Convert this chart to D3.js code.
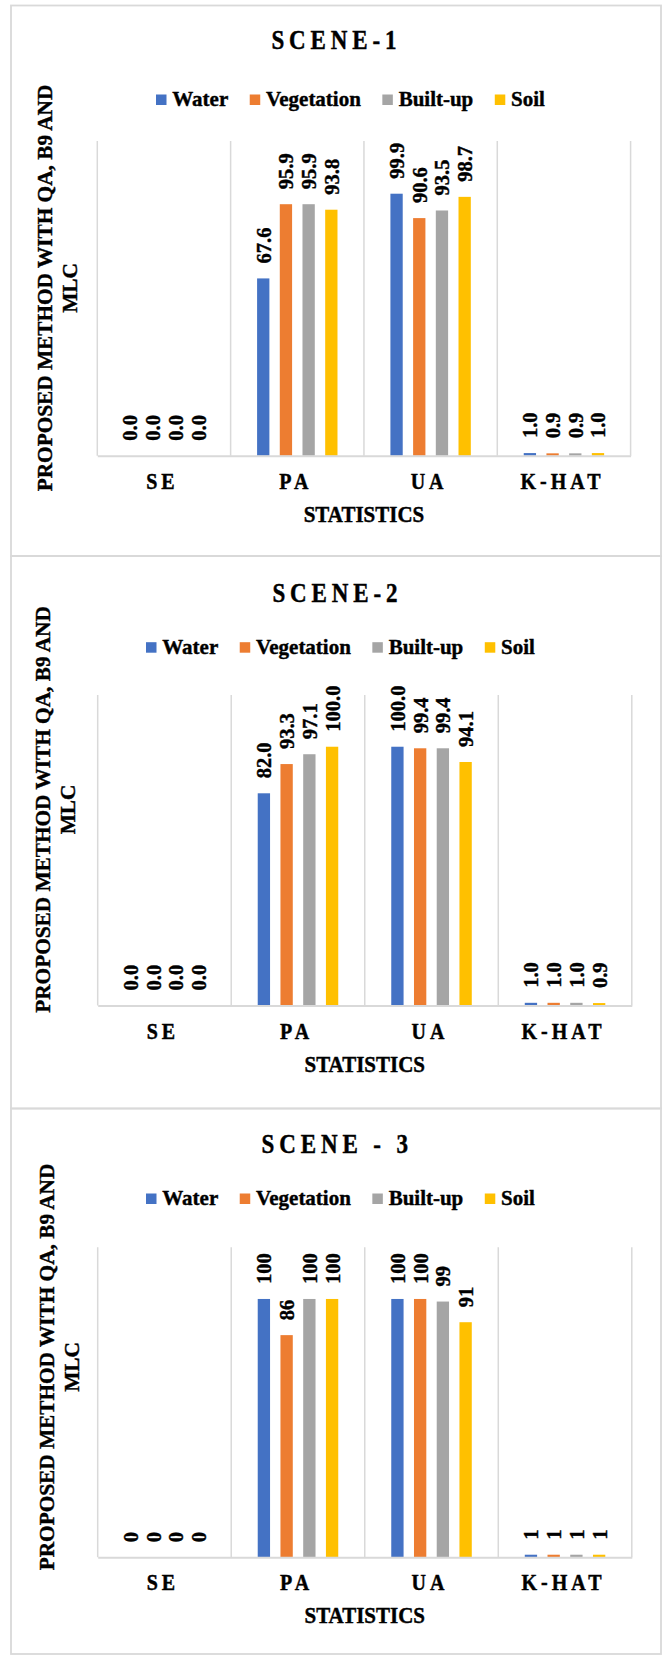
<!DOCTYPE html>
<html>
<head>
<meta charset="utf-8">
<script src="https://cdn.jsdelivr.net/npm/d3@7"></script>
<style>
  html, body { margin: 0; padding: 0; background: #ffffff; }
  svg { display: block; }
</style>
</head>
<body>
<svg id="chart" width="663" height="1655"></svg>
<script>
// ---------------- DATA ----------------
const categories = ["SE", "PA", "UA", "K-HAT"];
const seriesNames = ["Water", "Vegetation", "Built-up", "Soil"];
const seriesColors = ["#4472C4", "#ED7D31", "#A5A5A5", "#FFC000"];
const sceneTitles = ["SCENE-1", "SCENE-2", "SCENE - 3"];
const yAxisTitleLines = ["PROPOSED METHOD WITH QA, B9 AND", "MLC"];
const xAxisTitle = "STATISTICS";
const yDomain = [0, 120];
const labelFormats = [".1f", ".1f", ".0f"];

// Scene 1 (values per category SE, PA, UA, K-HAT)
const scene1Water      = [0.0, 67.6, 99.9, 1.0];
const scene1Vegetation = [0.0, 95.9, 90.6, 0.9];
const scene1BuiltUp    = [0.0, 95.9, 93.5, 0.9];
const scene1Soil       = [0.0, 93.8, 98.7, 1.0];
// Scene 2
const scene2Water      = [0.0, 82.0, 100.0, 1.0];
const scene2Vegetation = [0.0, 93.3, 99.4, 1.0];
const scene2BuiltUp    = [0.0, 97.1, 99.4, 1.0];
const scene2Soil       = [0.0, 100.0, 94.1, 0.9];
// Scene 3
const scene3Water      = [0, 100, 100, 1];
const scene3Vegetation = [0, 86, 100, 1];
const scene3BuiltUp    = [0, 100, 99, 1];
const scene3Soil       = [0, 100, 91, 1];

const sceneSeries = [
  [scene1Water, scene1Vegetation, scene1BuiltUp, scene1Soil],
  [scene2Water, scene2Vegetation, scene2BuiltUp, scene2Soil],
  [scene3Water, scene3Vegetation, scene3BuiltUp, scene3Soil]
];

// ---------------- LAYOUT ----------------
const layouts = [
  { top: 5.5, bottom: 556, titleX: 334, titleY: 49.3, legendX: 156, legendY: 105,
    plot: { l: 97.3, r: 630.6, t: 141, b: 455.7 }, catY: 489.3, axisTitleY: 521.7, yLabelX: 51.5, yLabelY: 288 },
  { top: 556, bottom: 1108.5, titleX: 335, titleY: 602.3, legendX: 146, legendY: 652.7,
    plot: { l: 97.7, r: 631.8, t: 695, b: 1005.4 }, catY: 1038.8, axisTitleY: 1071.5, yLabelX: 50, yLabelY: 809.5 },
  { top: 1108.5, bottom: 1654, titleX: 334.8, titleY: 1153.3, legendX: 146, legendY: 1204,
    plot: { l: 97.7, r: 631.8, t: 1247.3, b: 1557.3 }, catY: 1590.3, axisTitleY: 1622.5, yLabelX: 54, yLabelY: 1367 }
];

const FONT = "Liberation Serif";
const svg = d3.select("#chart")
  .attr("font-family", FONT)
  .attr("font-weight", "bold");
const gridColor = "#d9d9d9";
const textColor = "#000000";
const textStroke = 0.4;

function styleText(sel, size) {
  return sel.attr("font-family", FONT)
    .attr("font-weight", "bold")
    .attr("font-size", size)
    .attr("fill", textColor)
    .attr("stroke", textColor)
    .attr("stroke-width", textStroke);
}

function hText(g, str, x, y, size, ls, k, anchor) {
  const dx = anchor === "middle" ? ls / 2 : 0;
  const t = g.append("text")
    .attr("transform", `translate(${x + dx},${y}) scale(1,${k})`)
    .attr("letter-spacing", ls)
    .attr("text-anchor", anchor)
    .text(str);
  return styleText(t, size);
}

layouts.forEach((L, si) => {
  const g = svg.append("g");

  // panel border
  g.append("rect")
    .attr("x", 11).attr("y", L.top)
    .attr("width", 661 - 11).attr("height", L.bottom - L.top)
    .attr("fill", "none").attr("stroke", gridColor).attr("stroke-width", 1.8);

  // title
  hText(g, sceneTitles[si], L.titleX, L.titleY, 23, 4.9, 1.16, "middle");

  // scales
  const x0 = d3.scaleBand().domain(categories).range([L.plot.l, L.plot.r]).padding(0);
  const cw = x0.bandwidth();
  const x1 = d3.scaleBand().domain(seriesNames)
    .range([-0.3405 * cw, 0.3405 * cw]).paddingInner(0.458).paddingOuter(0.229);
  const y = d3.scaleLinear().domain(yDomain).range([L.plot.b, L.plot.t]);

  // vertical gridlines at category boundaries
  const bounds = categories.map(c => x0(c)).concat([L.plot.r]);
  g.append("g").selectAll("line").data(bounds).join("line")
    .attr("x1", d => d).attr("x2", d => d)
    .attr("y1", y(yDomain[1])).attr("y2", y(0))
    .attr("stroke", gridColor).attr("stroke-width", 1.5);

  // bars
  const series = sceneSeries[si];
  const fmt = d3.format(labelFormats[si]);
  seriesNames.forEach((name, k) => {
    const vals = series[k];
    const sg = g.append("g");
    sg.selectAll("rect").data(vals).join("rect")
      .attr("x", (d, i) => x0(categories[i]) + cw / 2 + x1(name))
      .attr("y", d => y(d))
      .attr("width", x1.bandwidth())
      .attr("height", d => y(0) - y(d))
      .attr("fill", seriesColors[k]);
    const labels = sg.selectAll("text").data(vals).join("text")
      .attr("transform", (d, i) => {
        const cx = x0(categories[i]) + cw / 2 + x1(name) + x1.bandwidth() / 2;
        return `translate(${cx + 7.5},${y(d) - 15}) rotate(-90)`;
      })
      .attr("text-anchor", "start")
      .text(d => fmt(d));
    styleText(labels, 20.5);
  });

  // x axis baseline
  const xAxis = d3.axisBottom(x0).tickSize(0).tickFormat("");
  const ax = g.append("g").attr("transform", `translate(0,${y(0)})`).call(xAxis);
  ax.select(".domain").attr("stroke", gridColor).attr("stroke-width", 2);

  // category labels
  categories.forEach(c => {
    hText(g, c, x0(c) + cw / 2 - 3.5, L.catY, 20, 4, 1.2, "middle");
  });

  // x axis title
  hText(g, xAxisTitle, (L.plot.l + L.plot.r) / 2, L.axisTitleY, 21, 0, 1.13, "middle");

  // y axis title (two lines, rotated)
  yAxisTitleLines.forEach((line, li) => {
    const t = g.append("text")
      .attr("transform", `translate(${L.yLabelX + li * 25},${L.yLabelY}) rotate(-90)`)
      .attr("text-anchor", "middle")
      .text(line);
    styleText(t, 21.3);
  });

  // legend
  let lx = L.legendX;
  const sw = 10.5;
  seriesNames.forEach((name, k) => {
    g.append("rect").attr("x", lx).attr("y", L.legendY - sw)
      .attr("width", sw).attr("height", sw).attr("fill", seriesColors[k]);
    const t = hText(g, name, lx + 16.3, L.legendY + 1, 21, 0, 1.04, "start");
    lx = lx + 16.3 + t.node().getComputedTextLength() + 21.5;
  });
});
</script>
</body>
</html>
